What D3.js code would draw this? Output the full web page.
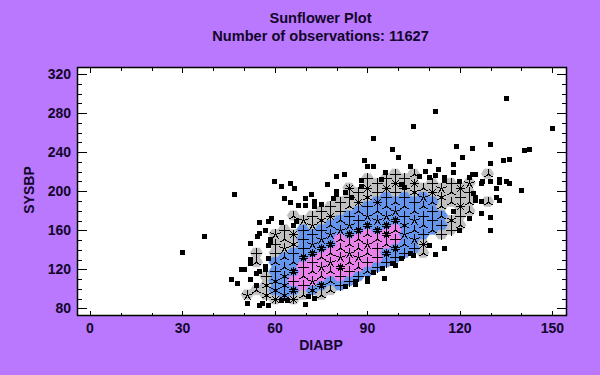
<!DOCTYPE html>
<html>
<head>
<meta charset="utf-8">
<script src="https://cdn.jsdelivr.net/npm/d3@7/dist/d3.min.js"></script>
<style>
html,body{margin:0;padding:0;background:#ba78ff;}
svg{display:block;}
text{font-family:"Liberation Sans",Arial,sans-serif;font-weight:bold;fill:#12062a;}
</style>
</head>
<body>
<svg id="chart" width="600" height="375"></svg>
<script>
const titleLines = ["Sunflower Plot", "Number of observations: 11627"];
const xLabel = "DIABP";
const yLabel = "SYSBP";
const xMajor = [0, 30, 60, 90, 120, 150];
const xMinor = [10, 20, 40, 50, 70, 80, 100, 110, 130, 140];
const yMajor = [80, 120, 160, 200, 240, 280, 320];
const yMinor = [90, 100, 110, 130, 140, 150, 170, 180, 190, 210, 220, 230, 250, 260, 270, 290, 300, 310];

// [DIABP, SYSBP, petals]
const greyCells = [
[51,94.2,5],[54,98.9,3],[54,127.5,3],[54,137,4],[57,94.2,6],[57,103.7,6],[57,113.2,4],
[60,89.4,8],[60,137,4],[60,146.5,4],[60,156,5],[63,141.8,5],[63,151.3,3],[63,160.8,4],
[66,89.4,8],[66,146.5,6],[66,156,8],[66,175.1,3],[69,94.2,3],[69,170.3,5],[72,165.5,5],[72,175.1,4],
[75,94.2,3],[75,170.3,6],[75,179.8,4],[78,98.9,3],[78,175.1,8],[78,184.6,4],[81,179.8,4],[81,189.4,4],
[84,184.6,3],[84,194.1,4],[84,203.6,8],[87,189.4,8],[87,198.9,4],[90,194.1,6],[90,203.6,8],[90,213.1,4],
[93,198.9,4],[93,208.4,4],[96,203.6,8],[96,213.1,4],[99,198.9,4],[99,208.4,8],[99,217.9,4],
[102,203.6,4],[102,213.1,4],[105,198.9,6],[105,208.4,8],[105,217.9,3],[108,203.6,3],[108,146.5,8],[108,137,3],
[111,198.9,8],[111,208.4,4],[114,156,4],[114,184.6,3],[114,194.1,6],[114,203.6,5],
[117,160.8,4],[117,170.3,6],[117,189.4,3],[117,198.9,3],[117,208.4,4],
[120,165.5,3],[120,175.1,4],[120,184.6,8],[120,194.1,4],[120,203.6,8],
[123,179.8,3],[123,189.4,3],[123,198.9,4],[123,208.4,5],[129,189.4,3],[129,217.9,3]
];
const blueCells = [
[60,98.9,6],[60,108.4,6],[60,117.9,4],[60,127.5,3],[63,94.2,6],[63,103.7,6],[63,113.2,6],[63,122.7,3],[63,132.2,3],
[66,98.9,10],[66,117.9,10],[66,127.5,3],[66,137,4],[69,132.2,10],[69,141.8,4],[69,151.3,4],[69,160.8,4],
[72,98.9,6],[72,137,10],[72,146.5,5],[72,156,4],[75,103.7,10],[75,141.8,10],[75,151.3,5],[75,160.8,4],
[78,108.4,3],[78,146.5,10],[78,156,5],[78,165.5,3],[81,103.7,4],[81,160.8,5],[81,170.3,3],
[84,108.4,4],[84,156,10],[84,165.5,5],[84,175.1,4],[87,113.2,4],[87,160.8,10],[87,170.3,4],[87,179.8,3],
[90,117.9,3],[90,165.5,10],[90,175.1,5],[90,184.6,4],[93,122.7,4],[93,160.8,10],[93,170.3,5],[93,179.8,3],[93,189.4,8],
[96,127.5,4],[96,137,10],[96,165.5,10],[96,175.1,5],[96,184.6,3],[96,194.1,4],
[99,132.2,4],[99,141.8,10],[99,170.3,10],[99,179.8,5],[99,189.4,3],
[102,137,4],[102,146.5,3],[102,156,5],[102,165.5,6],[102,175.1,4],[102,184.6,3],[102,194.1,4],
[105,141.8,4],[105,151.3,5],[105,160.8,3],[105,170.3,5],[105,179.8,3],[105,189.4,4],
[108,156,4],[108,165.5,3],[108,175.1,4],[108,184.6,3],[108,194.1,5],
[111,160.8,3],[111,170.3,4],[111,179.8,4],[111,189.4,3],[114,165.5,4],[114,175.1,3]
];
const pinkCells = [
[66,108.4,4],[69,103.7,4],[69,113.2,3],[69,122.7,4],[72,108.4,5],[72,117.9,3],[72,127.5,4],
[75,113.2,3],[75,122.7,5],[75,132.2,3],[78,117.9,3],[78,127.5,5],[78,137,3],
[81,113.2,4],[81,122.7,10],[81,132.2,5],[81,141.8,3],[81,151.3,3],
[84,117.9,4],[84,127.5,3],[84,137,5],[84,146.5,3],[87,122.7,3],[87,132.2,5],[87,141.8,3],[87,151.3,3],
[90,127.5,4],[90,137,3],[90,146.5,5],[90,156,3],[93,132.2,4],[93,141.8,4],[93,151.3,3],
[96,146.5,3],[96,156,10],[99,151.3,4],[99,160.8,3]
];
// single observations [DIABP, SYSBP]
const points = [
[135,295],[112,282],[105,266],[150,264],[92,254],[98,243],[119,246],[124,244],[130,248],[141,242],[142.5,243],
[100,235],[121,235],[89,231],[110,230],[134,231],[136,232],[130,228],[118,227],[90,225],[92,225],[104,225],
[113,222],[109,220],[118,219],[96,219],[82.5,217],[80,215],[112,216],[124,217],[125,217],[123,214],[110,214],
[107,215],[115,214],[133,212],[133,209],[88,211],[94.5,212],[115,211],[130,210],[127.5,210],[127,208],[120,210],
[135,210],[136,208],[60,210],[62,205],[65,208],[66.5,203],[77,207],[88,205],[101,207],[102,204],[132,203],[140,201],
[47,197],[80,200],[80,197],[83,199],[85,194],[63,193],[70,193],[72,197],[65,188],[73,190],[67.5,185],[70,185],
[73,184],[75,186],[79,192.5],[62,168],[59,172],[58,169],[55,168],[57,160],[55,157],[54.5,154],[67,169],[66,165],
[52,147],[58.5,151],[58.5,148],[58,144],[58,131],[52,130],[52,126],[57,123],[57,120],[55,118],[54,116],[49,120],
[50,120],[46,110],[48,106],[52,110],[54,104],[51,85],[55,83],[56,85],[58,83],[62,88],[64,88],[70,84],[71,92],[73,90],
[83,103],[86,105],[86,108],[90,108],[90,111],[95.5,111],[92,117],[95,121],[98,126],[99,124],[101,131],[104,136],
[105,134],[110,144],[112,135.5],[115,141],[120,160],[130,160],[118,179.5],[123,172],[127,177],[130,173],[127,189.5],
[124.5,198],[125,194],[125,191],[132,194],[133,191],[37,154],[30,137.5]
];

const plot = {left: 77.5, right: 566.5, top: 67.5, bottom: 315.5};
const x = d3.scaleLinear().domain([-4.05, 154.6]).range([plot.left, plot.right]);
const y = d3.scaleLinear().domain([72.8, 326.7]).range([plot.bottom, plot.top]);
const svg = d3.select("#chart");

svg.append("rect").attr("x", plot.left).attr("y", plot.top)
  .attr("width", plot.right - plot.left).attr("height", plot.bottom - plot.top).attr("fill", "#fff");

// hexagon half-extents in data units
const hexHalfX = 2.02, hexHalfY = 4.9;
function hexPath(d) {
  const rx = x(d[0] + hexHalfX) - x(d[0]);
  const ry = y(d[1]) - y(d[1] + hexHalfY);
  const cx = x(d[0]), cy = y(d[1]);
  const pts = [[-rx,0],[-rx/2,-ry],[rx/2,-ry],[rx,0],[rx/2,ry],[-rx/2,ry]];
  return "M" + pts.map(p => [cx + p[0], cy + p[1]].join(",")).join("L") + "Z";
}
const layers = [[greyCells, "#c0c0c0"], [blueCells, "#6495ed"], [pinkCells, "#ea80ea"]];
layers.forEach(([cells, col]) => {
  svg.append("g").selectAll("path").data(cells).join("path")
    .attr("d", hexPath).attr("fill", col).attr("stroke", col).attr("stroke-width", 0.6);
});

// petals
const petalGroup = svg.append("g").attr("stroke", "#000").attr("stroke-width", 1)
  .attr("stroke-linecap", "butt").attr("shape-rendering", "crispEdges");
layers.forEach(([cells]) => {
  cells.forEach(d => {
    const cx = Math.round(x(d[0])) + 0.5, cy = Math.round(y(d[1])) + 0.5;
    const len = d[2] >= 8 ? 4.6 : 5.6;
    d3.range(d[2]).forEach(i => {
      const a = -Math.PI / 2 + i * 2 * Math.PI / d[2];
      petalGroup.append("line").attr("x1", cx).attr("y1", cy)
        .attr("x2", cx + len * Math.cos(a)).attr("y2", cy + len * Math.sin(a));
    });
  });
});

// single points
const sq = 5;
svg.append("g").selectAll("rect").data(points).join("rect")
  .attr("x", d => Math.round(x(d[0]) - sq / 2)).attr("y", d => Math.round(y(d[1]) - sq / 2))
  .attr("width", sq).attr("height", sq).attr("fill", "#000");

// axes
function ax(gen, tr, vals, len) {
  const g = svg.append("g").attr("transform", tr)
    .call(gen.tickValues(vals).tickSizeInner(len).tickSizeOuter(0).tickFormat(""));
  g.select(".domain").remove();
  g.selectAll("line").attr("stroke", "#000").attr("stroke-width", 1).attr("shape-rendering", "crispEdges");
  return g;
}
ax(d3.axisBottom(x), `translate(0,${plot.bottom})`, xMajor, -4.5);
ax(d3.axisBottom(x), `translate(0,${plot.bottom})`, xMinor, -2.5);
ax(d3.axisTop(x), `translate(0,${plot.top})`, xMajor, -5);
ax(d3.axisTop(x), `translate(0,${plot.top})`, xMinor, -3);
ax(d3.axisLeft(y), `translate(${plot.left},0)`, yMajor, -9);
ax(d3.axisLeft(y), `translate(${plot.left},0)`, yMinor, -4.5);
ax(d3.axisRight(y), `translate(${plot.right},0)`, yMajor, -9.5);
ax(d3.axisRight(y), `translate(${plot.right},0)`, yMinor, -5);

svg.append("rect").attr("x", plot.left).attr("y", plot.top)
  .attr("width", plot.right - plot.left).attr("height", plot.bottom - plot.top)
  .attr("fill", "none").attr("stroke", "#000").attr("stroke-width", 1.5);

// tick labels
svg.append("g").selectAll("text").data(xMajor).join("text")
  .attr("x", d => x(d)).attr("y", 333).attr("text-anchor", "middle").attr("font-size", 14).text(d => d);
svg.append("g").selectAll("text").data(yMajor).join("text")
  .attr("x", 71).attr("y", d => y(d) + 5).attr("text-anchor", "end").attr("font-size", 14).text(d => d);

// titles
svg.append("text").attr("x", 321).attr("y", 350).attr("text-anchor", "middle").attr("font-size", 14).text(xLabel);
svg.append("text").attr("transform", "translate(34,190) rotate(-90)").attr("text-anchor", "middle").attr("font-size", 14).text(yLabel);
svg.selectAll(".title").data(titleLines).join("text").attr("class", "title")
  .attr("x", 320.5).attr("y", (d, i) => 23 + i * 18).attr("text-anchor", "middle").attr("font-size", 14.6).text(d => d);
</script>
</body>
</html>
